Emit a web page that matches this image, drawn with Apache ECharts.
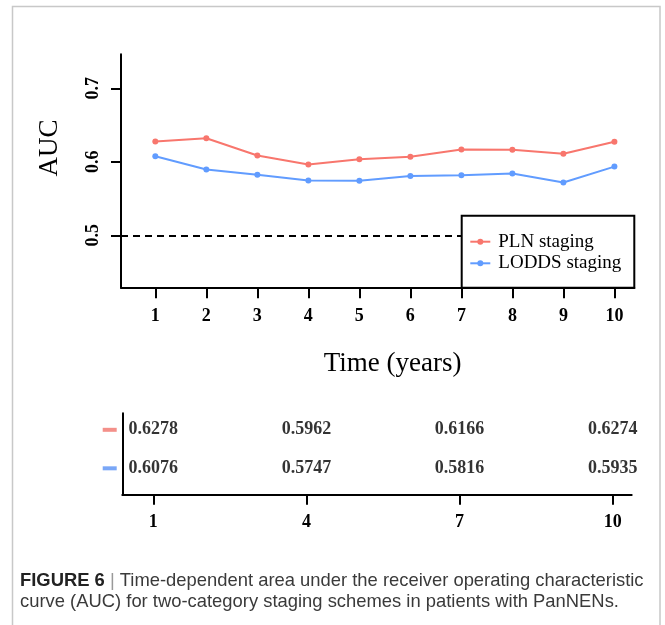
<!DOCTYPE html>
<html><head><meta charset="utf-8">
<script src="https://cdn.jsdelivr.net/npm/echarts@6/dist/echarts.min.js"></script>
<style>html,body{margin:0;padding:0;background:#fff}#c{width:665px;height:625px}</style>
</head><body><div id="c"></div>
<script>
const years = [1, 2, 3, 4, 5, 6, 7, 8, 9, 10];
const pln = [0.6278, 0.6320, 0.6085, 0.5962, 0.6036, 0.6070, 0.6166, 0.6163, 0.6109, 0.6274];
const lodds = [0.6076, 0.5896, 0.5824, 0.5747, 0.5742, 0.5806, 0.5816, 0.5841, 0.5719, 0.5935];
const seriesNames = ['PLN staging', 'LODDS staging'];
const xTicks = [1, 2, 3, 4, 5, 6, 7, 8, 9, 10];
const yTicks = [0.5, 0.6, 0.7];
const tableYears = [1, 4, 7, 10];
const tableRows = [2, 1];
const refLine = 0.5;
const colors = ['#F8766D', '#619CFF'];
const swatchColors = ['#F4908A', '#7AA7F7'];
const xTitle = 'Time (years)';
const yTitle = 'AUC';
const captionBold = 'FIGURE 6';
const captionText = ['Time-dependent area under the receiver operating characteristic',
  'curve (AUC) for two-category staging schemes in patients with PanNENs.'];

const serif = 'Liberation Serif';
const black = '#000';
const chart = echarts.init(document.getElementById('c'), null, {renderer: 'canvas'});

const seriesValues = [pln, lodds];
const lineSeries = seriesValues.map((vals, k) => ({
  type: 'line', name: seriesNames[k], xAxisIndex: 0, yAxisIndex: 0,
  data: years.map((t, i) => [t, vals[i]]),
  symbol: 'circle', symbolSize: 6, color: colors[k],
  lineStyle: {width: 2, color: colors[k]}, itemStyle: {color: colors[k]},
  z: 2, silent: true,
  markLine: k === 0 ? {
    silent: true, symbol: ['none', 'none'], label: {show: false},
    lineStyle: {type: [7, 5], width: 2, color: black},
    data: [{yAxis: refLine}]
  } : undefined
}));
const tableSeries = seriesValues.map((vals, k) => ({
  type: 'scatter', name: seriesNames[k] + ' table', xAxisIndex: 1, yAxisIndex: 1,
  data: tableYears.map(t => [t, tableRows[k], vals[years.indexOf(t)]]),
  symbolSize: 0, silent: true,
  label: {show: true, position: 'inside', formatter: p => p.value[2].toFixed(4),
    fontFamily: serif, fontWeight: 'bold', fontSize: 18, color: black}
}));

const axisLineStyle = {show: true, onZero: false, lineStyle: {color: black, width: 2}};

chart.setOption({
  animation: false,
  backgroundColor: '#fff',
  title: {
    left: 20, top: 570, padding: 0,
    text: '{b|' + captionBold + '} {s||} ' + captionText[0] + '\n' + captionText[1],
    textStyle: {fontFamily: 'Liberation Sans', fontSize: 18.4, fontWeight: 'normal', color: '#3a3a3a', lineHeight: 21,
      rich: {b: {fontWeight: 'bold', fontSize: 18.4, color: '#222', fontFamily: 'Liberation Sans'},
             s: {color: '#999', fontSize: 18.4, fontFamily: 'Liberation Sans'}}}
  },
  grid: [
    {left: 121, right: 30.7, top: 54.3, bottom: 337.3},
    {left: 122.3, right: 33.3, top: 413.3, bottom: 130.7}
  ],
  legend: {
    data: seriesNames, orient: 'vertical', left: 469.3, top: 231.7, padding: 0,
    itemWidth: 20, itemHeight: 7.5, itemGap: 1.6, z: 30,
    textStyle: {fontFamily: serif, fontSize: 19, lineHeight: 20, color: black, padding: [0, 0, 0, 3]}
  },
  xAxis: [
    {type: 'value', gridIndex: 0, min: 0.327, max: 10.39,
      axisLine: axisLineStyle,
      axisTick: {show: true, customValues: xTicks, length: 10.5, lineStyle: {color: black, width: 2}},
      axisLabel: {customValues: xTicks, margin: 20, fontFamily: serif, fontWeight: 'bold', fontSize: 18, color: black},
      splitLine: {show: false},
      name: xTitle, nameLocation: 'middle', nameGap: 63,
      nameTextStyle: {fontFamily: serif, fontSize: 27, color: black, padding: [0, 0, 0, 30]}
    },
    {type: 'value', gridIndex: 1, min: 0.393, max: 10.372,
      axisLine: axisLineStyle,
      axisTick: {show: true, customValues: tableYears, length: 10.5, lineStyle: {color: black, width: 2}},
      axisLabel: {customValues: tableYears, margin: 19.5, fontFamily: serif, fontWeight: 'bold', fontSize: 18, color: black},
      splitLine: {show: false}
    }
  ],
  yAxis: [
    {type: 'value', gridIndex: 0, min: 0.4287, max: 0.7463,
      axisLine: axisLineStyle,
      axisTick: {show: true, customValues: yTicks, length: 10, lineStyle: {color: black, width: 2}},
      axisLabel: {customValues: yTicks, rotate: 90, margin: 19, fontFamily: serif, fontWeight: 'bold', fontSize: 18, color: black},
      splitLine: {show: false},
      name: yTitle, nameLocation: 'middle', nameRotate: 90, nameGap: 58,
      nameTextStyle: {fontFamily: serif, fontSize: 27, color: black, padding: [0, 0, 0, 46]}
    },
    {type: 'value', gridIndex: 1, min: 0.325, max: 2.429,
      axisLine: axisLineStyle,
      axisTick: {show: false},
      axisLabel: {customValues: tableRows, margin: 5.6,
        formatter: v => (v === tableRows[0] ? '{p| }' : '{q| }'),
        rich: {p: {width: 14, height: 4, fontSize: 4, lineHeight: 4, backgroundColor: swatchColors[0]},
               q: {width: 14, height: 4, fontSize: 4, lineHeight: 4, backgroundColor: swatchColors[1]}}},
      splitLine: {show: false}
    }
  ],
  graphic: [
    {type: 'rect', z: 0, silent: true, shape: {x: 12.5, y: 6.5, width: 647.5, height: 640},
      style: {fill: 'none', stroke: '#c8c8c8', lineWidth: 1.5}},
    {type: 'rect', z: 20, silent: true, shape: {x: 461.7, y: 215.7, width: 172.6, height: 72},
      style: {fill: '#fff', stroke: black, lineWidth: 2}}
  ],
  series: lineSeries.concat(tableSeries)
});
</script></body></html>
